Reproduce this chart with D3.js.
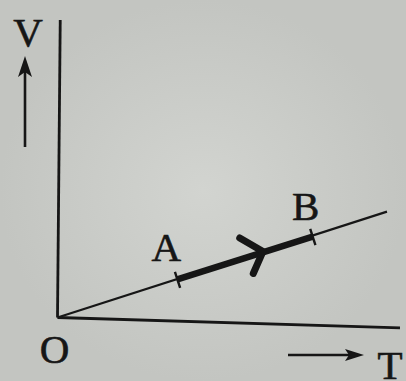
<!DOCTYPE html>
<html>
<head>
<meta charset="utf-8">
<script src="https://cdn.jsdelivr.net/npm/d3@7"></script>
<style>
  html, body { margin:0; padding:0; background:#c9cbc7; }
  svg { display:block; }
  text { font-family:"Liberation Serif","DejaVu Serif",serif; fill:#161616; stroke:#161616; stroke-width:0.6; }
</style>
</head>
<body>
<div id="chart"></div>
<script>
// V-T diagram, process A -> B along a straight line through the origin
var pointLabels = ["O", "A", "B"];
var pointT = [0, 3.5, 7.45];
var pointV = [0, 1.28, 2.72];
var lineEndT = 9.62, lineEndV = 3.56;
var tAxisT = [0, 10], tAxisV = [0, -0.35];   // photo is slightly skewed
var vAxisT = [0, 0.08], vAxisV = [0, 10];
var arrowT = 6.0;                             // direction arrow on A->B

var W = 406, H = 381;
var svg = d3.select("#chart").append("svg").attr("width", W).attr("height", H);

var bg = svg.append("defs").append("radialGradient").attr("id", "bg");
bg.append("stop").attr("offset", "0%").attr("stop-color", "#d2d4d0");
bg.append("stop").attr("offset", "100%").attr("stop-color", "#c3c5c1");
svg.append("rect").attr("width", W).attr("height", H).attr("fill", "url(#bg)");

var x = d3.scaleLinear().domain([0, 10]).range([57.5, 400]);
var y = d3.scaleLinear().domain([0, 10]).range([317.5, 20]);
var ink = "#161616";

var line = d3.line().x(function(d){return x(d[0]);}).y(function(d){return y(d[1]);});

// axes
svg.append("path").attr("d", line(d3.zip(vAxisT, vAxisV).reverse()))
  .attr("stroke", ink).attr("stroke-width", 2.8).attr("fill", "none");
svg.append("path").attr("d", line(d3.zip(tAxisT, tAxisV)))
  .attr("stroke", ink).attr("stroke-width", 2.8).attr("fill", "none");

// straight line through origin
svg.append("path").attr("d", line([[0, 0], [lineEndT, lineEndV]]))
  .attr("stroke", ink).attr("stroke-width", 2.2).attr("fill", "none");

// thick segment A -> B
svg.append("path").attr("d", line([[pointT[1], pointV[1]], [pointT[2], pointV[2]]]))
  .attr("stroke", ink).attr("stroke-width", 6.5).attr("fill", "none");

// direction of the line in pixels
var dx = x(lineEndT) - x(0), dy = y(lineEndV) - y(0);
var len = Math.sqrt(dx*dx + dy*dy);
var ux = dx/len, uy = dy/len, nx = -uy, ny = ux;

// ticks at A and B
[1, 2].forEach(function(i){
  var px = x(pointT[i]), py = y(pointV[i]);
  svg.append("line")
    .attr("x1", px - nx*8).attr("y1", py - ny*8)
    .attr("x2", px + nx*9).attr("y2", py + ny*9)
    .attr("stroke", ink).attr("stroke-width", 2.4);
});

// chevron arrow
var ax = x(arrowT), ay = y(arrowT*lineEndV/lineEndT);
svg.append("path")
  .attr("d", "M" + (ax - ux*18 - nx*20) + "," + (ay - uy*18 - ny*20) +
             "L" + ax + "," + ay +
             "L" + (ax - ux*16 + nx*18) + "," + (ay - uy*16 + ny*18))
  .attr("stroke", ink).attr("stroke-width", 7).attr("stroke-linecap", "round")
  .attr("stroke-linejoin", "round").attr("fill", "none");

// point labels
var labelOff = [[-3, 45], [-11, -18], [-7, -17]];
pointLabels.forEach(function(t, i){
  svg.append("text")
    .attr("x", x(pointT[i]) + labelOff[i][0])
    .attr("y", y(pointV[i]) + labelOff[i][1])
    .attr("text-anchor", "middle").attr("font-size", 41)
    .text(t);
});

// V arrow + label
svg.append("line").attr("x1", 25).attr("y1", 147).attr("x2", 25).attr("y2", 66)
  .attr("stroke", ink).attr("stroke-width", 2.6);
svg.append("path").attr("d", "M25,56 L32,77 L25,72 L18,77 Z").attr("fill", ink);
svg.append("text").attr("x", 28).attr("y", 46).attr("text-anchor", "middle")
  .attr("font-size", 41).text("V");

// T arrow + label
svg.append("line").attr("x1", 288).attr("y1", 355).attr("x2", 354).attr("y2", 355)
  .attr("stroke", ink).attr("stroke-width", 2.6);
svg.append("path").attr("d", "M364,355 L345,349 L349,355 L345,361 Z").attr("fill", ink);
svg.append("text").attr("x", 390).attr("y", 379).attr("text-anchor", "middle")
  .attr("font-size", 41).text("T");
</script>
</body>
</html>
